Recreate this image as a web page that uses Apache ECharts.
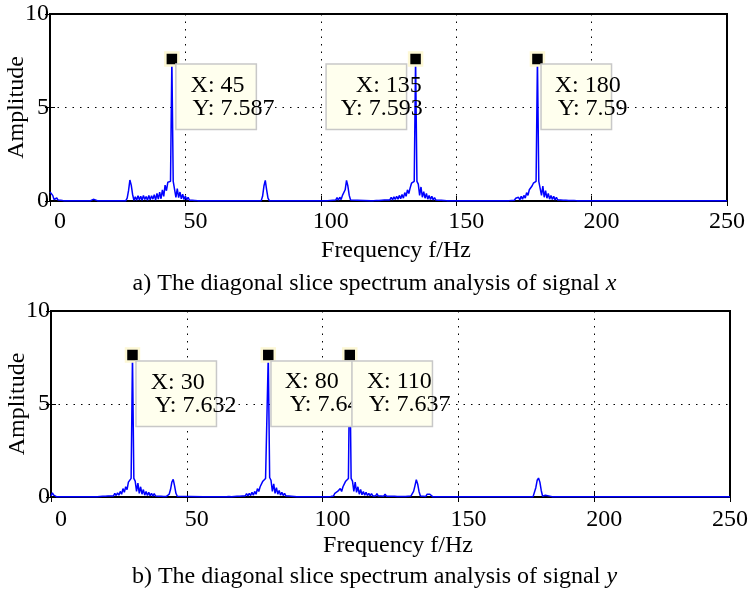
<!DOCTYPE html>
<html>
<head>
<meta charset="utf-8">
<title>diagonal slice spectrum</title>
<script src="https://cdn.jsdelivr.net/npm/echarts@6/dist/echarts.min.js"></script>
<style>
  html, body { margin: 0; padding: 0; background: #fff; }
  #chart { width: 749px; height: 591px; }
</style>
</head>
<body>
<div id="chart"></div>
<script>
// 刻度
const xTicks = [0, 50, 100, 150, 200, 250]
const yTicks = [0, 5, 10]

// signal x 的对角切片谱 [f, amplitude]
const specX = [
  [0, 0.48], [0.5, 0.55], [1, 0.3], [1.5, 0.08], [2, 0.04], [2.5, 0.16], [3, 0.05], [3.5, 0.12], [4, 0.04], [4.5, 0.08], [5, 0.02],
  [7, 0.02], [7.5, 0.09], [8, 0.02], [9, 0.02], [9.5, 0.1], [10, 0.02],
  [12, 0.02], [12.5, 0.09], [13, 0.02], [14, 0.02], [14.5, 0.1], [15, 0.02], [15.5, 0.02], [16, 0.09], [16.5, 0.02],
  [17.5, 0.02], [18, 0.1], [18.5, 0.02], [19.5, 0.02], [20, 0.09], [20.5, 0.02], [21.5, 0.02], [22, 0.1], [22.5, 0.02],
  [23.5, 0.02], [24, 0.09], [24.5, 0.02],
  [28, 0.02], [28.5, 0.15], [29, 0.55], [29.5, 1.12], [30, 0.85], [30.5, 0.35], [31, 0.04], [31.5, 0.22], [32, 0.04],
  [32.5, 0.28], [33, 0.06], [33.5, 0.26], [34, 0.04], [34.5, 0.3], [35, 0.08], [35.5, 0.24], [36, 0.04], [36.5, 0.3],
  [37, 0.06], [37.5, 0.28], [38, 0.1], [38.5, 0.34], [39, 0.05], [39.5, 0.4], [40, 0.1], [40.5, 0.48], [41, 0.12],
  [41.5, 0.6], [42, 0.25], [42.5, 0.85], [43, 0.55], [43.5, 1.0], [44, 0.98], [44.5, 1.05], [45, 7.587], [45.5, 1.05],
  [46, 0.95], [46.5, 0.2], [47, 0.66], [47.5, 0.18], [48, 0.48], [48.5, 0.12], [49, 0.36], [49.5, 0.08], [50, 0.26],
  [50.5, 0.06], [51, 0.2], [51.5, 0.04], [52, 0.14], [52.5, 0.04], [53, 0.12], [53.5, 0.03], [54, 0.1], [54.5, 0.02],
  [55, 0.07], [55.5, 0.02],
  [78, 0.02], [78.5, 0.25], [79, 0.8], [79.5, 1.1], [80, 0.6], [80.5, 0.15], [81, 0.02], [82, 0.02], [82.5, 0.1], [83, 0.02],
  [88.5, 0.02], [89, 0.1], [89.5, 0.02],
  [102.5, 0.02], [103, 0.1], [103.5, 0.03], [104, 0.12], [104.5, 0.04], [105, 0.1], [105.5, 0.05], [106, 0.18],
  [106.5, 0.05], [107, 0.2], [107.5, 0.08], [108, 0.3], [108.5, 0.2], [109, 0.6], [109.5, 1.1], [110, 0.8], [110.5, 0.3],
  [111, 0.05], [111.5, 0.02],
  [118.5, 0.02], [119, 0.08], [119.5, 0.02], [120, 0.1], [120.5, 0.03], [121, 0.1], [121.5, 0.03], [122, 0.12],
  [122.5, 0.04], [123, 0.12], [123.5, 0.05], [124, 0.14], [124.5, 0.05], [125, 0.15], [125.5, 0.06], [126, 0.2],
  [126.5, 0.06], [127, 0.22], [127.5, 0.08], [128, 0.25], [128.5, 0.1], [129, 0.3], [129.5, 0.12], [130, 0.35],
  [130.5, 0.15], [131, 0.45], [131.5, 0.25], [132, 0.6], [132.5, 0.4], [133, 0.7], [133.5, 0.95], [134, 0.98],
  [134.5, 1.05], [135, 7.593], [135.5, 1.05], [136, 0.9], [136.5, 0.3], [137, 0.75], [137.5, 0.2], [138, 0.5],
  [138.5, 0.15], [139, 0.4], [139.5, 0.1], [140, 0.3], [140.5, 0.08], [141, 0.25], [141.5, 0.06], [142, 0.18],
  [142.5, 0.05], [143, 0.15], [143.5, 0.04], [144, 0.12], [144.5, 0.04], [145, 0.1], [145.5, 0.03], [146, 0.08],
  [146.5, 0.02], [147, 0.06], [147.5, 0.02], [149, 0.02], [149.5, 0.1], [150, 0.02],
  [168.5, 0.02], [169, 0.08], [169.5, 0.02], [170, 0.1], [170.5, 0.03], [171, 0.1], [171.5, 0.04], [172, 0.15],
  [172.5, 0.05], [173, 0.2], [173.5, 0.06], [174, 0.25], [174.5, 0.1], [175, 0.3], [175.5, 0.15], [176, 0.45],
  [176.5, 0.3], [177, 0.6], [177.5, 0.5], [178, 0.8], [178.5, 0.95], [179, 1.0], [179.5, 1.05], [180, 7.59],
  [180.5, 1.05], [181, 0.95], [181.5, 0.3], [182, 0.8], [182.5, 0.2], [183, 0.55], [183.5, 0.15], [184, 0.4],
  [184.5, 0.1], [185, 0.3], [185.5, 0.08], [186, 0.25], [186.5, 0.06], [187, 0.2], [187.5, 0.05], [188, 0.15],
  [188.5, 0.05], [189, 0.12], [189.5, 0.04], [190, 0.1], [190.5, 0.04], [191, 0.1], [191.5, 0.03], [192, 0.08],
  [192.5, 0.03], [193, 0.08], [193.5, 0.03], [194, 0.07], [194.5, 0.02], [195, 0.07], [195.5, 0.02], [196, 0.06],
  [196.5, 0.02], [197, 0.06], [197.5, 0.02], [198, 0.05], [198.5, 0.02], [199, 0.05], [199.5, 0.02], [200, 0.1],
  [200.5, 0.02], [201, 0.08], [201.5, 0.02], [202, 0.1], [202.5, 0.02], [203.5, 0.02], [204, 0.09], [204.5, 0.02],
  [205, 0.09], [205.5, 0.02], [206, 0.08], [206.5, 0.02], [207.5, 0.02], [208, 0.09], [208.5, 0.02], [209, 0.09],
  [209.5, 0.02], [210, 0.08], [210.5, 0.02],
  [215.5, 0.02], [216, 0.09], [216.5, 0.02], [250, 0.02]
]

// signal y 的对角切片谱 [f, amplitude]
const specY = [
  [0, 0.05], [0.5, 0.22], [1, 0.1], [1.5, 0.03], [2, 0.02], [3, 0.02], [3.5, 0.1], [4, 0.02],
  [13.5, 0.02], [14, 0.08], [14.5, 0.02], [16, 0.02], [16.5, 0.06], [17, 0.02], [17.5, 0.08], [18, 0.03], [18.5, 0.08],
  [19, 0.04], [19.5, 0.1], [20, 0.04], [20.5, 0.12], [21, 0.05], [21.5, 0.12], [22, 0.05], [22.5, 0.15], [23, 0.06],
  [23.5, 0.2], [24, 0.08], [24.5, 0.22], [25, 0.1], [25.5, 0.3], [26, 0.15], [26.5, 0.45], [27, 0.25], [27.5, 0.55],
  [28, 0.4], [28.5, 0.8], [29, 0.85], [29.5, 1.0], [30, 7.632], [30.5, 1.0], [31, 0.85], [31.5, 0.3], [32, 0.75],
  [32.5, 0.2], [33, 0.55], [33.5, 0.15], [34, 0.4], [34.5, 0.1], [35, 0.3], [35.5, 0.08], [36, 0.25], [36.5, 0.06],
  [37, 0.2], [37.5, 0.05], [38, 0.18], [38.5, 0.05], [39, 0.15], [39.5, 0.04], [40, 0.12], [40.5, 0.04], [41, 0.1],
  [41.5, 0.03], [42, 0.08], [42.5, 0.03], [43, 0.1], [43.5, 0.15], [44, 0.4], [44.5, 0.8], [45, 0.95], [45.5, 0.6],
  [46, 0.2], [46.5, 0.04], [47, 0.02],
  [56, 0.02], [56.5, 0.06], [57, 0.02],
  [63.5, 0.02], [64, 0.06], [64.5, 0.02], [65, 0.08], [65.5, 0.03], [66, 0.08], [66.5, 0.02], [67, 0.1], [67.5, 0.03],
  [68, 0.1], [68.5, 0.04], [69, 0.12], [69.5, 0.04], [70, 0.12], [70.5, 0.05], [71, 0.15], [71.5, 0.05], [72, 0.18],
  [72.5, 0.06], [73, 0.2], [73.5, 0.08], [74, 0.25], [74.5, 0.1], [75, 0.3], [75.5, 0.15], [76, 0.45], [76.5, 0.3],
  [77, 0.55], [77.5, 0.45], [78, 0.85], [78.5, 0.9], [79, 1.0], [79.5, 1.05], [80, 7.64], [80.5, 1.05], [81, 0.9],
  [81.5, 0.3], [82, 0.7], [82.5, 0.2], [83, 0.5], [83.5, 0.15], [84, 0.35], [84.5, 0.1], [85, 0.25], [85.5, 0.08],
  [86, 0.2], [86.5, 0.05], [87, 0.15], [87.5, 0.05], [88, 0.12], [88.5, 0.04], [89, 0.08], [89.5, 0.03], [90, 0.05],
  [90.5, 0.02],
  [102, 0.02], [102.5, 0.08], [103, 0.03], [103.5, 0.12], [104, 0.05], [104.5, 0.2], [105, 0.1], [105.5, 0.3],
  [106, 0.2], [106.5, 0.45], [107, 0.3], [107.5, 0.55], [108, 0.5], [108.5, 0.85], [109, 0.9], [109.5, 1.0],
  [110, 7.637], [110.5, 1.0], [111, 0.85], [111.5, 0.3], [112, 0.8], [112.5, 0.25], [113, 0.55], [113.5, 0.15],
  [114, 0.4], [114.5, 0.12], [115, 0.3], [115.5, 0.1], [116, 0.25], [116.5, 0.08], [117, 0.2], [117.5, 0.06],
  [118, 0.18], [118.5, 0.06], [119, 0.15], [119.5, 0.05], [120, 0.18], [120.5, 0.05], [121, 0.15], [121.5, 0.05],
  [122, 0.12], [122.5, 0.04], [123, 0.15], [123.5, 0.04], [124, 0.12], [124.5, 0.04], [125, 0.1], [125.5, 0.04],
  [126, 0.12], [126.5, 0.04], [127, 0.1], [127.5, 0.03], [128, 0.1], [128.5, 0.03], [129, 0.08], [129.5, 0.03],
  [130, 0.1], [130.5, 0.03], [131, 0.1], [131.5, 0.04], [132, 0.08], [132.5, 0.05], [133, 0.1], [133.5, 0.3],
  [134, 0.6], [134.5, 0.93], [135, 0.7], [135.5, 0.3], [136, 0.05], [136.5, 0.12], [137, 0.04], [137.5, 0.08],
  [138, 0.03], [138.5, 0.15], [139, 0.15], [139.5, 0.15], [140, 0.05], [140.5, 0.02],
  [155.5, 0.02], [156, 0.06], [156.5, 0.02], [166, 0.02], [166.5, 0.06], [167, 0.02],
  [177.5, 0.02], [178, 0.1], [178.5, 0.5], [179, 0.9], [179.5, 1.02], [180, 0.8], [180.5, 0.35], [181, 0.04],
  [181.5, 0.02], [182, 0.09], [182.5, 0.02], [184.5, 0.02], [185, 0.08], [185.5, 0.02], [189, 0.02], [189.5, 0.09],
  [190, 0.02], [190.5, 0.09], [191, 0.02],
  [215, 0.02], [215.5, 0.06], [216, 0.02], [246, 0.02], [246.5, 0.06], [247, 0.02], [250, 0.02]
]

// 数据提示点
const tipsXf = [45, 135, 180]
const tipsXa = [7.587, 7.593, 7.59]
const tipsYf = [30, 80, 110]
const tipsYa = [7.632, 7.64, 7.637]

const captionText = ['a) The diagonal slice spectrum analysis of signal ', 'b) The diagonal slice spectrum analysis of signal ']
const captionVar = ['x', 'y']

// 提示框位置（相对数据点）
const tipBoxX = [
  { dx: 6, w: 79, px: 14, py: 16 },
  { dx: -87.5, w: 79, px: 29, py: 14 },
  { dx: 5.6, w: 69, px: 13, py: 16 }
]
const tipBoxY = [
  { dx: 5.5, w: 79, px: 14, py: 18 },
  { dx: 4.7, w: 80, px: 13, py: 18 },
  { dx: 4.2, w: 79, px: 14, py: 16 }
]

const font = 'Liberation Serif'
const fs = 24
const txt = { fontFamily: font, fontSize: fs, fontWeight: 'normal', color: '#000', lineHeight: 23 }
const dotted = { color: '#000', type: [1.5, 6], width: 1 }
const tick = { inside: true, length: 5, lineStyle: { color: '#000', width: 1 } }

function xAxes(gi, labelMargin, nameGap) {
  let last = xTicks[xTicks.length - 1]
  return [{
    gridIndex: gi,
    type: 'value',
    min: xTicks[0],
    max: last,
    interval: xTicks[1] - xTicks[0],
    name: 'Frequency f/Hz',
    nameLocation: 'middle',
    nameGap: nameGap,
    nameMoveOverlap: false,
    nameTextStyle: Object.assign({ padding: [0, 0, 0, 15] }, txt),
    axisLine: { show: false },
    axisTick: tick,
    axisLabel: {
      margin: labelMargin,
      formatter: v => (v === last ? '{e|' : '{s|') + v + '}',
      rich: {
        s: Object.assign({ padding: [0, 0, 0, 20] }, txt),
        e: txt
      }
    },
    splitLine: { show: true, lineStyle: dotted }
  }, {
    gridIndex: gi,
    type: 'value',
    position: 'top',
    min: xTicks[0],
    max: last,
    interval: xTicks[1] - xTicks[0],
    axisLine: { show: false },
    axisTick: tick,
    axisLabel: { show: false },
    splitLine: { show: false }
  }]
}

function yAxes(gi) {
  return [{
    gridIndex: gi,
    type: 'value',
    min: yTicks[0],
    max: yTicks[yTicks.length - 1],
    interval: yTicks[1] - yTicks[0],
    name: 'Amplitude',
    nameLocation: 'middle',
    nameGap: 22,
    nameRotate: 90,
    nameMoveOverlap: false,
    nameTextStyle: txt,
    axisLine: { show: false },
    axisTick: tick,
    axisLabel: Object.assign({ margin: 1 }, txt),
    splitLine: { show: true, lineStyle: dotted }
  }, {
    gridIndex: gi,
    type: 'value',
    position: 'right',
    min: yTicks[0],
    max: yTicks[yTicks.length - 1],
    interval: yTicks[1] - yTicks[0],
    axisLine: { show: false },
    axisTick: tick,
    axisLabel: { show: false },
    splitLine: { show: false }
  }]
}

function tips(fs_, as_, boxes, dy) {
  return fs_.map((f, i) => {
    let b = boxes[i]
    return {
      coord: [f, as_[i]],
      label: {
        show: true,
        position: [6.5 + b.dx, 6.5 + dy],
        align: 'left',
        verticalAlign: 'top',
        formatter: '{a|X: ' + f + '}\n{b|Y: ' + as_[i] + '}',
        backgroundColor: '#ffffee',
        borderColor: '#c8c8c8',
        borderWidth: 1.5,
        width: b.w,
        height: 46,
        padding: [9, 0, 9, 0],
        rich: {
          a: Object.assign({ padding: [0, 0, 0, b.px] }, txt),
          b: Object.assign({ padding: [0, 0, 0, b.py] }, txt)
        }
      }
    }
  })
}

function spectrum(data, xi, yi, tipData) {
  return {
    type: 'line',
    xAxisIndex: xi,
    yAxisIndex: yi,
    data: data,
    symbol: 'none',
    clip: false,
    silent: true,
    lineStyle: { color: '#0000ff', width: 1.5 },
    itemStyle: { color: '#0000ff' },
    markPoint: {
      symbol: 'rect',
      symbolSize: 13,
      silent: true,
      itemStyle: { color: '#000', borderColor: '#fdf8d5', borderWidth: 2.5 },
      data: tipData
    }
  }
}

const captionTop = [272, 565.5]

let chart = echarts.init(document.getElementById('chart'))
chart.setOption({
  animation: false,
  backgroundColor: '#fff',
  title: captionText.map((c, i) => ({
    text: '{n|' + c + '}{i|' + captionVar[i] + '}',
    left: 'center',
    top: captionTop[i],
    padding: 0,
    textStyle: {
      fontWeight: 'normal',
      rich: {
        n: txt,
        i: Object.assign({ fontStyle: 'italic' }, txt)
      }
    }
  })),
  grid: [
    { left: 50, right: 22, top: 14, height: 187, show: true, borderColor: '#000', borderWidth: 2, outerBoundsMode: 'none' },
    { left: 51, right: 19, top: 311, height: 186, show: true, borderColor: '#000', borderWidth: 2, outerBoundsMode: 'none' }
  ],
  xAxis: xAxes(0, 9, 38).concat(xAxes(1, 11, 37.5)),
  yAxis: yAxes(0).concat(yAxes(1)),
  series: [
    spectrum(specX, 0, 0, tips(tipsXf, tipsXa, tipBoxX, 7)),
    spectrum(specY, 2, 2, tips(tipsYf, tipsYa, tipBoxY, 8))
  ]
})
window.addEventListener('resize', () => chart.resize())
</script>
</body>
</html>
